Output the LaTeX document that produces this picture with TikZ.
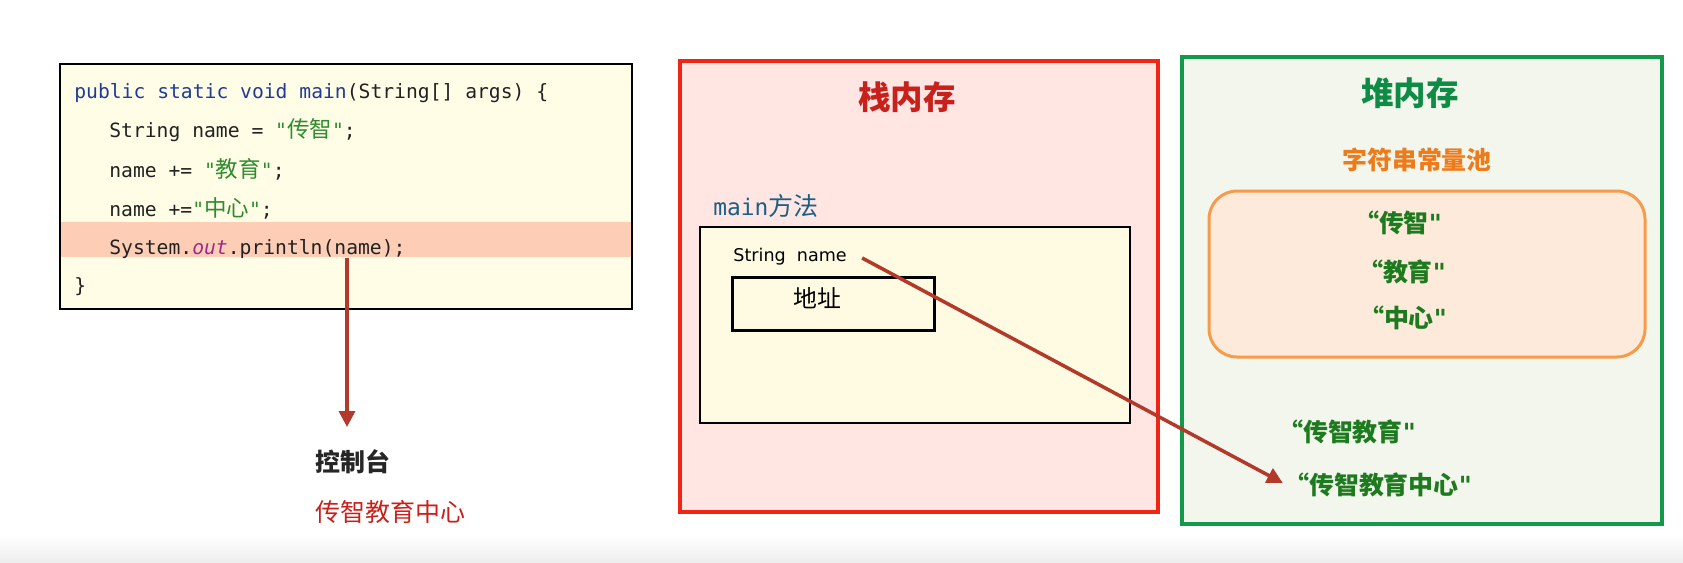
\documentclass[tikz,border=0pt]{standalone}
\usepackage{fontspec}
\setmainfont{Noto Sans CJK SC}
\newfontfamily\codefont{DejaVu Sans Mono}
\newfontfamily\labelfont{DejaVu Sans}
\usetikzlibrary{arrows.meta}
\definecolor{codebg}{HTML}{FFFDE6}
\definecolor{bandbg}{HTML}{FDCDB6}
\definecolor{codetext}{HTML}{222222}
\definecolor{kwblue}{HTML}{1F3C98}
\definecolor{strgreen}{HTML}{2E8B2E}
\definecolor{outpurple}{HTML}{9C2A8C}
\definecolor{arrowred}{HTML}{B3392B}
\definecolor{stackred}{HTML}{F22414}
\definecolor{stackbg}{HTML}{FFE6E3}
\definecolor{framebg}{HTML}{FFFBE3}
\definecolor{heapgreen}{HTML}{12994A}
\definecolor{heapbg}{HTML}{F3F6EC}
\definecolor{heaptitle}{HTML}{0E8C45}
\definecolor{poolorange}{HTML}{F59B4A}
\definecolor{poolbg}{HTML}{FEEADB}
\definecolor{pooltitle}{HTML}{EE7B1A}
\definecolor{darkgreen}{HTML}{1E7A1E}
\definecolor{mainblue}{HTML}{1B5E86}
\definecolor{outred}{HTML}{C8201A}
\newcommand\jkw[1]{\textcolor{kwblue}{#1}}
\newcommand\jstr[1]{\textcolor{strgreen}{#1}}
\newcommand\jout[1]{\textcolor{outpurple}{\itshape #1}}
\newcommand\zh[1]{{\normalfont\fontsize{12.8}{13}\selectfont #1}}
\newcommand\closeq{{\labelfont\bfseries"}}
\tikzset{
  codeline/.style={anchor=mid west, inner sep=0pt, text=codetext,
    font=\codefont\fontsize{11.2}{13}\selectfont},
  memtitle/.style={font=\bfseries\fontsize{18.5}{20}\selectfont},
  strnode/.style={inner sep=0pt, text=darkgreen, font=\bfseries\fontsize{14.2}{16}\selectfont},
  ptr/.style={draw=arrowred, line width=2pt, -{Triangle[length=9pt,width=9pt]}},
}
\begin{document}
\begin{tikzpicture}[x=0.02cm, y=-0.02cm]
  \useasboundingbox (0,0) rectangle (1683,562);
  \shade[top color=white, bottom color=black!7] (0,535) rectangle (1683,562);

  % code
  \fill[codebg] (60,64) rectangle (632,309);
  \fill[bandbg] (60,222) rectangle (632,257);
  \draw[line width=0.9pt] (60,64) rectangle (632,309);
  \begin{scope}[every node/.style={codeline}]
    \node (c1) at (74,94) {\jkw{public static void main}(String[] args) \{};
    \node (c2) at (109,133) {String name = \jstr{"\zh{传智}"};};
    \node (c3) at (109,173) {name += \jstr{"\zh{教育}"};};
    \node (c4) at (109,212) {name +=\jstr{"\zh{中心}"};};
    \node (c5) at (109,250) {System.\jout{out}.println(name);};
    \node (c6) at (74,288) {\}};
  \end{scope}

  % console
  \node[anchor=west, inner sep=0pt, text=black!85, font=\bfseries\fontsize{14.2}{16}\selectfont] (console) at (315,462) {控制台};
  \node[anchor=west, inner sep=0pt, text=outred, font=\fontsize{14.2}{16}\selectfont] (result) at (315,512) {传智教育中心};
  \coordinate (printpt) at (347,258);
  \coordinate (consolept) at (347,427);
  \draw[ptr] (printpt) -- (consolept);

  % stack
  \draw[stackred, fill=stackbg, line width=2.3pt] (680,61) rectangle (1158,512);
  \node[memtitle, text=outred] (stack) at (907,97) {栈内存};
  \node[anchor=west, inner sep=0pt, text=mainblue] (mainlbl) at (713,206)
    {{\codefont\fontsize{13}{14}\selectfont main}{\fontsize{14.2}{16}\selectfont 方法}};
  \draw[fill=framebg, line width=1.1pt] (700,227) rectangle (1130,423);
  \node[anchor=west, inner sep=0pt, font=\labelfont\fontsize{10}{12}\selectfont] (sname) at (733,257) {String~~name};
  \draw[line width=1.7pt] (732,277) rectangle (934,330);
  \node[font=\fontsize{13.6}{15}\selectfont] (addr) at (817,298) {地址};

  % heap
  \draw[heapgreen, fill=heapbg, line width=2.3pt] (1182,57) rectangle (1662,524);
  \node[memtitle, text=heaptitle] (heap) at (1410,93) {堆内存};
  \node[text=pooltitle, font=\bfseries\fontsize{14.2}{16}\selectfont] (pool) at (1417,160) {字符串常量池};
  \draw[poolorange, fill=poolbg, line width=1.7pt, rounded corners=28*0.02cm] (1209,191) rectangle (1645,357);
  \begin{scope}[every node/.style={strnode}]
    \node (s1) at (1398,223) {“传智\closeq};
    \node (s2) at (1402,272) {“教育\closeq};
    \node (s3) at (1403,318) {“中心\closeq};
    \node (s4) at (1347,432) {“传智教育\closeq};
    \node (s5) at (1378,485) {“传智教育中心\closeq};
  \end{scope}
  \draw[ptr] ([xshift=0.3cm, yshift=-0.02cm]sname.east) -- ([xshift=-0.02cm, yshift=0.04cm]s5.west);
\end{tikzpicture}
\end{document}
